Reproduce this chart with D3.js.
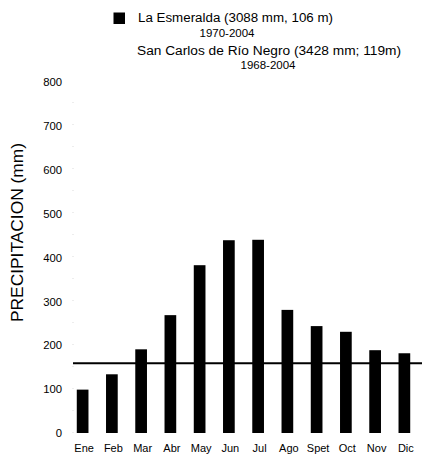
<!DOCTYPE html>
<html><head><meta charset="utf-8">
<script src="https://cdn.jsdelivr.net/npm/d3@7"></script>
<style>body{margin:0;background:#fff}svg{display:block}text{font-family:"Liberation Sans",Arial,sans-serif;fill:#000}</style>
</head><body><svg id="c" width="422" height="455"></svg>
<script>
const months = ["Ene","Feb","Mar","Abr","May","Jun","Jul","Ago","Spet","Oct","Nov","Dic"];
const esmeralda = [99,134,191,269,383,440,441,281,244,231,189,182];
const meanLine = 159;
const yTicks = [0,100,200,300,400,500,600,700,800];
const legend1 = ["La Esmeralda (3088 mm, 106 m)","1970-2004"];
const legend2 = ["San Carlos de Río Negro (3428 mm; 119m)","1968-2004"];
const yTitle = "PRECIPITACION (mm)";

const svg = d3.select("#c");
const x = d3.scaleBand().domain(months).range([68,419]).paddingInner(0.6).paddingOuter(0.3);
const y = d3.scaleLinear().domain([0,800]).range([433,82.5]);

// faint axis dots
svg.append("line").attr("x1",73).attr("x2",73).attr("y1",y(0)).attr("y2",y(800))
  .attr("stroke","#ccc").attr("stroke-width",0.7).attr("stroke-dasharray","1,21");

// y tick labels
svg.append("g").selectAll("text").data(yTicks).join("text")
  .attr("x",62).attr("y",d=>y(d)).attr("dy","0.35em").attr("text-anchor","end")
  .attr("font-size",11.3).text(d=>d);

// y title
svg.append("text").attr("transform","translate(23,232.5) rotate(-90)")
  .attr("text-anchor","middle").attr("font-size",16.5)
  .attr("textLength",179).attr("lengthAdjust","spacingAndGlyphs").text(yTitle);

// bars
svg.append("g").selectAll("rect").data(esmeralda).join("rect")
  .attr("x",(d,i)=>x(months[i])).attr("width",x.bandwidth())
  .attr("y",d=>y(d)).attr("height",d=>y(0)-y(d)).attr("fill","#000");

// mean line
svg.append("line").attr("x1",73).attr("x2",422).attr("y1",y(meanLine)).attr("y2",y(meanLine))
  .attr("stroke","#000").attr("stroke-width",2);

// month labels
svg.append("g").selectAll("text").data(months).join("text")
  .attr("x",d=>x(d)+x.bandwidth()/2+1.5).attr("y",451.5).attr("text-anchor","middle")
  .attr("font-size",11).text(d=>d);

// legend
svg.append("rect").attr("x",113.5).attr("y",12.5).attr("width",11.5).attr("height",11.5).attr("fill","#000");
svg.append("text").attr("x",138).attr("y",22).attr("font-size",12)
  .attr("textLength",195).attr("lengthAdjust","spacingAndGlyphs").text(legend1[0]);
svg.append("text").attr("x",227).attr("y",36.5).attr("text-anchor","middle").attr("font-size",11.5).text(legend1[1]);
svg.append("text").attr("x",137).attr("y",55).attr("font-size",12)
  .attr("textLength",264).attr("lengthAdjust","spacingAndGlyphs").text(legend2[0]);
svg.append("text").attr("x",268).attr("y",68.5).attr("text-anchor","middle").attr("font-size",11.5).text(legend2[1]);
</script></body></html>
